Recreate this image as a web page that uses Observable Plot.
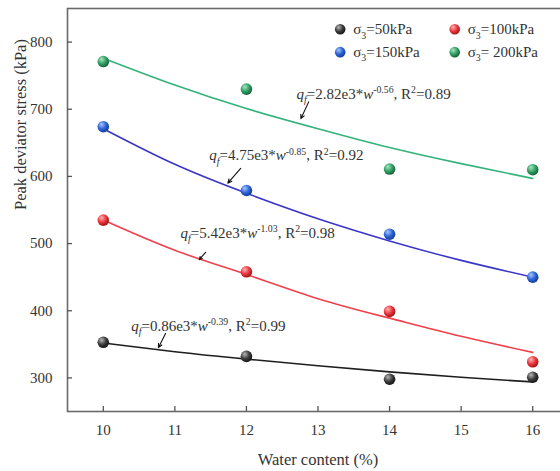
<!DOCTYPE html>
<html><head><meta charset="utf-8">
<script src="https://cdn.jsdelivr.net/npm/d3@7"></script>
<script src="https://cdn.jsdelivr.net/npm/@observablehq/plot@0.6"></script>
<style>
html,body{margin:0;padding:0;background:#fff;overflow:hidden;}
#chart{width:560px;height:471px;overflow:hidden;}
#chart svg{max-width:none !important;}
</style></head><body><div id="chart"></div>
<script>
// ---- data ----
const water = [10, 12, 14, 16];
const q50  = [353, 332, 298, 301];
const q100 = [535, 458, 399, 324];
const q150 = [674, 579, 514, 450];
const q200 = [771, 730, 611, 610];

// fitted curves
const fitX    = [10, 11, 12, 13, 14, 15, 16];
const fit50   = [352, 339, 328, 318, 309, 301, 294];
const fit100  = [535, 490, 454, 418, 389, 362, 338];
const fit150  = [671, 618, 575, 537, 504, 475, 450];
const fit200  = [776, 736, 701, 671, 643, 619, 597];

const seriesKeys   = ["s50", "s100", "s150", "s200"];
const legendLabels = ["σ_{3}=50kPa", "σ_{3}=100kPa", "σ_{3}=150kPa", "σ_{3}= 200kPa"];
const lineColors   = ["#1e1e1e", "#f0404c", "#3a36c8", "#34b27c"];
const dotBase      = ["#3a3a3a", "#e8343c", "#2a62d6", "#2f9e62"];
const dotLight     = ["#b8b8b8", "#ffb4b4", "#a8c6ff", "#a8e6c0"];
const dotDark      = ["#111111", "#9a1010", "#123a8c", "#145a32"];

// equation annotations (label anchor, arrow tail, arrow tip) in data units
const eqLabels = [
  "~q~_{~f~}=0.86e3*~w~^{-0.39}, R^{2}=0.99",
  "~q~_{~f~}=5.42e3*~w~^{-1.03}, R^{2}=0.98",
  "~q~_{~f~}=4.75e3*~w~^{-0.85}, R^{2}=0.92",
  "~q~_{~f~}=2.82e3*~w~^{-0.56}, R^{2}=0.89"
];
const eqX  = [10.39, 11.08, 11.48, 12.70];
const eqY  = [377, 516, 631, 723];
const arX1 = [10.87, 11.43, 11.92, 12.87];
const arY1 = [366, 487, 612, 711];
const arX2 = [10.77, 11.34, 11.74, 12.76];
const arY2 = [345, 476, 590, 686];

// legend placement in data units
const legX  = [13.31, 14.91, 13.31, 14.91];
const legY  = [819, 819, 785, 785];

const xTicks = [10, 11, 12, 13, 14, 15, 16];
const yTicks = [300, 400, 500, 600, 700, 800];

// ---- build tables ----
const ptsAll = [q50, q100, q150, q200];
const fitsAll = [fit50, fit100, fit150, fit200];
const FONT = "'Liberation Serif','Times New Roman',serif";

const marks = [];
marks.push(Plot.frame({stroke: "#6a6a6a", strokeWidth: 1.6}));
marks.push(Plot.axisX({ticks: xTicks, tickSize: -5, tickPadding: 18, tickFormat: d => String(d),
  fontSize: 15, fontFamily: FONT, stroke: "#555", strokeWidth: 1.3, fill: "#333", label: null}));
marks.push(Plot.axisY({ticks: yTicks, tickSize: -5, tickPadding: 20, tickFormat: d => String(d),
  fontSize: 15, fontFamily: FONT, stroke: "#555", strokeWidth: 1.3, fill: "#333", label: null}));

seriesKeys.forEach((k, si) => {
  const fit = fitX.map((x, i) => ({x, y: fitsAll[si][i]}));
  marks.push(Plot.line(fit, {x: "x", y: "y", curve: "natural", stroke: lineColors[si], strokeWidth: 1.6}));
});
seriesKeys.forEach((k, si) => {
  const pts = water.map((w, i) => ({w, q: ptsAll[si][i]}));
  marks.push(Plot.dot(pts, {x: "w", y: "q", r: 5.8, fill: `url(#grad-${k})`, stroke: "none"}));
});

const eqData = eqLabels.map((t, i) => ({t, x: eqX[i], y: eqY[i], x1: arX1[i], y1: arY1[i], x2: arX2[i], y2: arY2[i]}));
marks.push(Plot.arrow(eqData, {x1: "x1", y1: "y1", x2: "x2", y2: "y2", stroke: "#111", strokeWidth: 1.1, headLength: 6, headAngle: 50}));
marks.push(Plot.text(eqData, {x: "x", y: "y", text: "t", textAnchor: "start", lineAnchor: "middle",
  fontSize: 15, fontFamily: FONT, fill: "#333"}));

const legData = seriesKeys.map((k, i) => ({k, label: legendLabels[i], x: legX[i], y: legY[i]}));
legData.forEach((d, i) => {
  marks.push(Plot.dot([d], {x: "x", y: "y", r: 5.3, fill: `url(#grad-${d.k})`}));
  marks.push(Plot.text([d], {x: "x", y: "y", text: "label", dx: 13, textAnchor: "start", lineAnchor: "middle",
    fontSize: 15, fontFamily: FONT, fill: "#333"}));
});

marks.push(Plot.text(["Water content (%)"], {frameAnchor: "bottom", dy: 48, lineAnchor: "middle",
  fontSize: 16.5, fontFamily: FONT, fill: "#333"}));
marks.push(Plot.text(["Peak deviator stress (kPa)"], {frameAnchor: "left", dx: -47, rotate: -90, lineAnchor: "middle",
  fontSize: 16.5, fontFamily: FONT, fill: "#333"}));

const svg = Plot.plot({
  width: 580, height: 471,
  marginLeft: 67, marginRight: 12, marginTop: 8, marginBottom: 60,
  x: {domain: [9.5, 16.5]},
  y: {domain: [250, 850]},
  style: {background: "#fff", fontFamily: FONT, maxWidth: "none"},
  marks
});
svg.style.maxWidth = "none";

// gradients for shaded spheres
const ns = "http://www.w3.org/2000/svg";
const defs = document.createElementNS(ns, "defs");
seriesKeys.forEach((k, i) => {
  const g = document.createElementNS(ns, "radialGradient");
  g.setAttribute("id", `grad-${k}`);
  g.setAttribute("cx", "0.38"); g.setAttribute("cy", "0.35"); g.setAttribute("r", "0.7");
  g.setAttribute("fx", "0.35"); g.setAttribute("fy", "0.3");
  [[0, dotLight[i]], [0.55, dotBase[i]], [1, dotDark[i]]].forEach(([o, c]) => {
    const s = document.createElementNS(ns, "stop");
    s.setAttribute("offset", o); s.setAttribute("stop-color", c);
    g.appendChild(s);
  });
  defs.appendChild(g);
});
svg.insertBefore(defs, svg.firstChild);

// rich text: ~italic~, _{sub}, ^{sup}
function richify(el) {
  const s = el.textContent;
  if (!/[~]|[_^]\{/.test(s)) return;
  const base = parseFloat(el.getAttribute("font-size") || el.parentNode.getAttribute("font-size") || 14);
  const segs = [];
  let cur = "", italic = false, i = 0;
  const push = (t, it, mode) => { if (t) segs.push({t, it, mode}); };
  while (i < s.length) {
    const c = s[i];
    if (c === "~") { push(cur, italic, 0); cur = ""; italic = !italic; i++; }
    else if ((c === "_" || c === "^") && s[i + 1] === "{") {
      push(cur, italic, 0); cur = "";
      const j = s.indexOf("}", i);
      const inner = s.slice(i + 2, j);
      const mode = c === "_" ? -1 : 1;
      let it2 = italic, buf = "";
      for (const ch of inner) { if (ch === "~") { push(buf, it2, mode); buf = ""; it2 = !it2; } else buf += ch; }
      push(buf, it2, mode);
      i = j + 1;
    } else { cur += c; i++; }
  }
  push(cur, italic, 0);
  el.textContent = "";
  let level = 0;
  for (const seg of segs) {
    const ts = document.createElementNS(ns, "tspan");
    const target = seg.mode === -1 ? base * 0.3 : seg.mode === 1 ? -base * 0.38 : 0;
    const dy = target - level;
    if (dy) ts.setAttribute("dy", dy.toFixed(2));
    level = target;
    if (seg.mode) ts.setAttribute("font-size", (base * 0.65).toFixed(1));
    if (seg.it) ts.setAttribute("font-style", "italic");
    ts.textContent = seg.t;
    el.appendChild(ts);
  }
}
svg.querySelectorAll("text").forEach(richify);

document.getElementById("chart").appendChild(svg);
</script></body></html>
